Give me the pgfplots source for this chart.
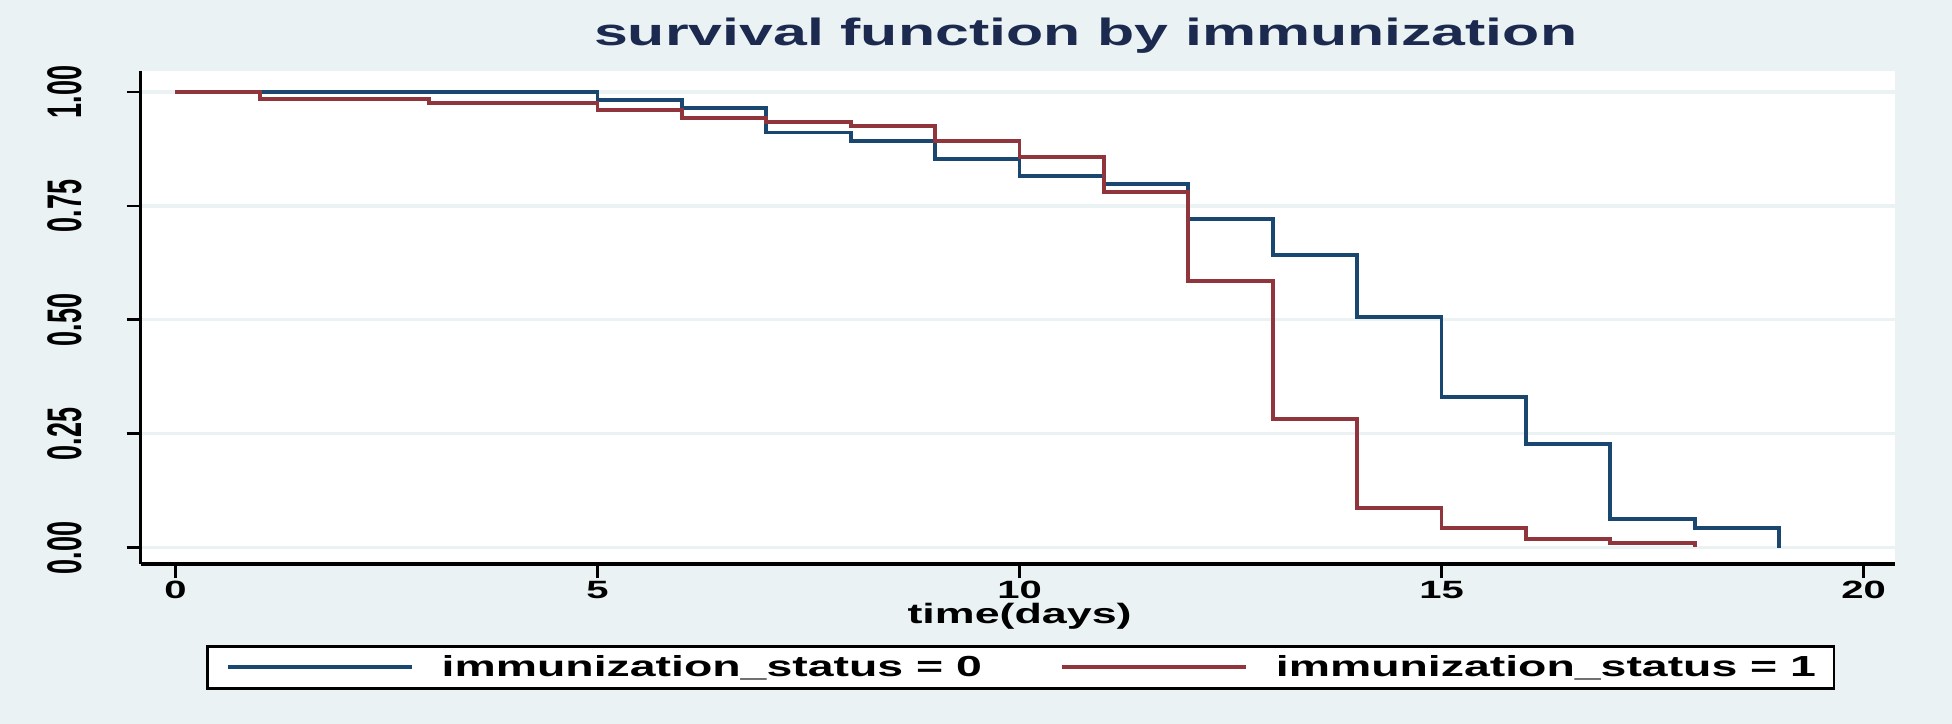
\documentclass[border=0pt]{standalone}
\usepackage{fontspec}
\setmainfont{Liberation Sans}[FakeStretch=1.6]
\newfontfamily\ylabfont{Liberation Sans}
\usepackage{pgfplots}
\pgfplotsset{compat=1.18}
\definecolor{bgc}{RGB}{234,242,243}
\definecolor{snavy}{RGB}{26,71,111}
\definecolor{smaroon}{RGB}{144,53,59}
\definecolor{titlec}{RGB}{28,42,80}
\begin{document}
\begin{tikzpicture}
\fill[bgc] (0,0) rectangle (976bp,362bp);
\useasboundingbox (0,0) rectangle (976bp,362bp);
\begin{axis}[
  at={(70.3bp,80bp)}, anchor=south west,
  width=877.1bp, height=246.5bp, scale only axis,
  xmin=-0.413, xmax=20.37, ymin=-0.0355, ymax=1.046,
  axis x line*=bottom, axis y line*=left,
  axis line style={line width=1.7bp, black},
  axis background/.style={fill=white},
  xtick={0,5,10,15,20}, ytick={0,0.25,0.5,0.75,1},
  tick align=outside, major tick length=7bp,
  tick style={black, line width=1.4bp},
  ymajorgrids, grid style={bgc, line width=1.6bp},
  /pgf/number format/assume math mode=true,
  xticklabel style={font=\fontsize{12.5bp}{14bp}\selectfont\bfseries, anchor=base, inner sep=0pt, yshift=-10.4bp},
  yticklabel={\rotatebox{90}{\scalebox{1}[1.8]{\ylabfont\bfseries\pgfmathprintnumber[fixed,fixed zerofill,precision=2]{\tick}}}},
  yticklabel style={font=\fontsize{13.5bp}{15bp}\selectfont, anchor=east, inner sep=0pt, xshift=-22.3bp},
  legend columns=2,
  legend image code/.code={\draw[#1, line width=2bp] plot coordinates {(0bp,0bp) (92bp,0bp)};},
  legend style={at={(0.5018,-0.1643)}, anchor=north, draw=black, line width=1.3bp, fill=white,
    inner xsep=9bp, inner ysep=4.5bp,
    font=\fontsize{14.5bp}{17bp}\selectfont\bfseries,
    nodes={inner sep=0pt},
    /tikz/every odd column/.append style={column sep=14bp},
    /tikz/every even column/.append style={column sep=39bp}},
]
\addplot[const plot, snavy, line width=1.9bp] coordinates {
(0,1) (5,0.983) (6,0.965) (7,0.911) (8,0.893) (9,0.853) (10,0.816) (11,0.798)
(12,0.721) (13,0.643) (14,0.507) (15,0.331) (16,0.227) (17,0.063) (18,0.044) (19,0)};
\addlegendentry{immunization\_status = 0}
\addplot[const plot, smaroon, line width=1.9bp] coordinates {
(0,1) (1,0.985) (3,0.976) (5,0.961) (6,0.943) (7,0.934) (8,0.926) (9,0.893)
(10,0.857) (11,0.781) (12,0.586) (13,0.282) (14,0.088) (15,0.044) (16,0.019) (17,0.011) (18,0.002)};
\addlegendentry{immunization\_status = 1}
\end{axis}
\node[anchor=base, text=titlec, font=\fontsize{19bp}{22bp}\selectfont\bfseries] at (542.8bp,339bp) {survival function by immunization};
\node[anchor=base, font=\fontsize{14bp}{16bp}\selectfont\bfseries] at (509.8bp,50.1bp) {time(days)};
\end{tikzpicture}
\end{document}
